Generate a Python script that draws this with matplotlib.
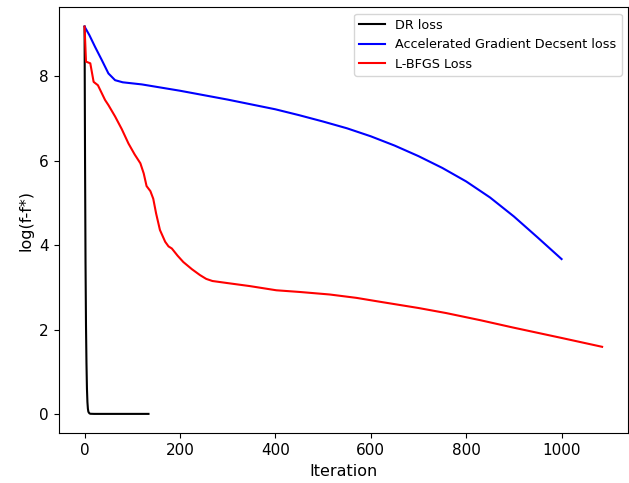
import numpy as np
import matplotlib
matplotlib.use("Agg")
import matplotlib.pyplot as plt

# DR loss
dr_iter = [0, 1, 2, 3, 4, 5, 6, 7, 8, 10, 12, 20, 60, 134]
dr_loss = [9.18, 6.0, 3.6, 2.1, 1.2, 0.6, 0.28, 0.12, 0.05, 0.015, 0.003, 0.0, 0.0, 0.0]

# Accelerated gradient descent loss
agd_iter = [0, 10, 22, 36, 50, 64, 80, 120, 200, 300, 400, 450, 500, 550, 600,
            650, 700, 750, 800, 850, 900, 950, 1000]
agd_loss = [9.18, 8.98, 8.70, 8.39, 8.07, 7.91, 7.86, 7.81, 7.66, 7.45, 7.22,
            7.08, 6.93, 6.77, 6.58, 6.36, 6.11, 5.83, 5.51, 5.13, 4.68, 4.18, 3.67]

# L-BFGS loss
lbfgs_iter = [0, 3, 12, 19, 28, 43, 50, 64, 78, 92, 105, 117, 124, 130, 138,
              144, 150, 158, 169, 176, 183, 195, 207, 225, 242, 255, 268, 300,
              346, 402, 451, 514, 570, 618, 700, 758, 830, 897, 1000, 1085]
lbfgs_loss = [9.18, 8.35, 8.31, 7.87, 7.79, 7.44, 7.32, 7.05, 6.75, 6.41, 6.15,
              5.94, 5.70, 5.40, 5.28, 5.10, 4.75, 4.36, 4.08, 3.97, 3.92, 3.75,
              3.60, 3.43, 3.29, 3.20, 3.15, 3.10, 3.03, 2.93, 2.89, 2.83, 2.75,
              2.66, 2.51, 2.39, 2.22, 2.05, 1.80, 1.59]

plt.rcParams['xtick.labelsize'] = 11
plt.rcParams['ytick.labelsize'] = 11

fig, ax = plt.subplots(figsize=(6.29, 4.83), dpi=100)
fig.subplots_adjust(left=0.0933, right=0.9984, top=0.985, bottom=0.103)

ax.plot(dr_iter, dr_loss, color="black", label="DR loss")
ax.plot(agd_iter, agd_loss, color="blue", label="Accelerated Gradient Decsent loss")
ax.plot(lbfgs_iter, lbfgs_loss, color="red", label="L-BFGS Loss")

ax.set_xlabel("Iteration", fontsize=11.5)
ax.set_ylabel("log(f-f*)", fontsize=11.5)
ax.legend(loc="upper right", fontsize=9.2)

fig.savefig("out.png")
